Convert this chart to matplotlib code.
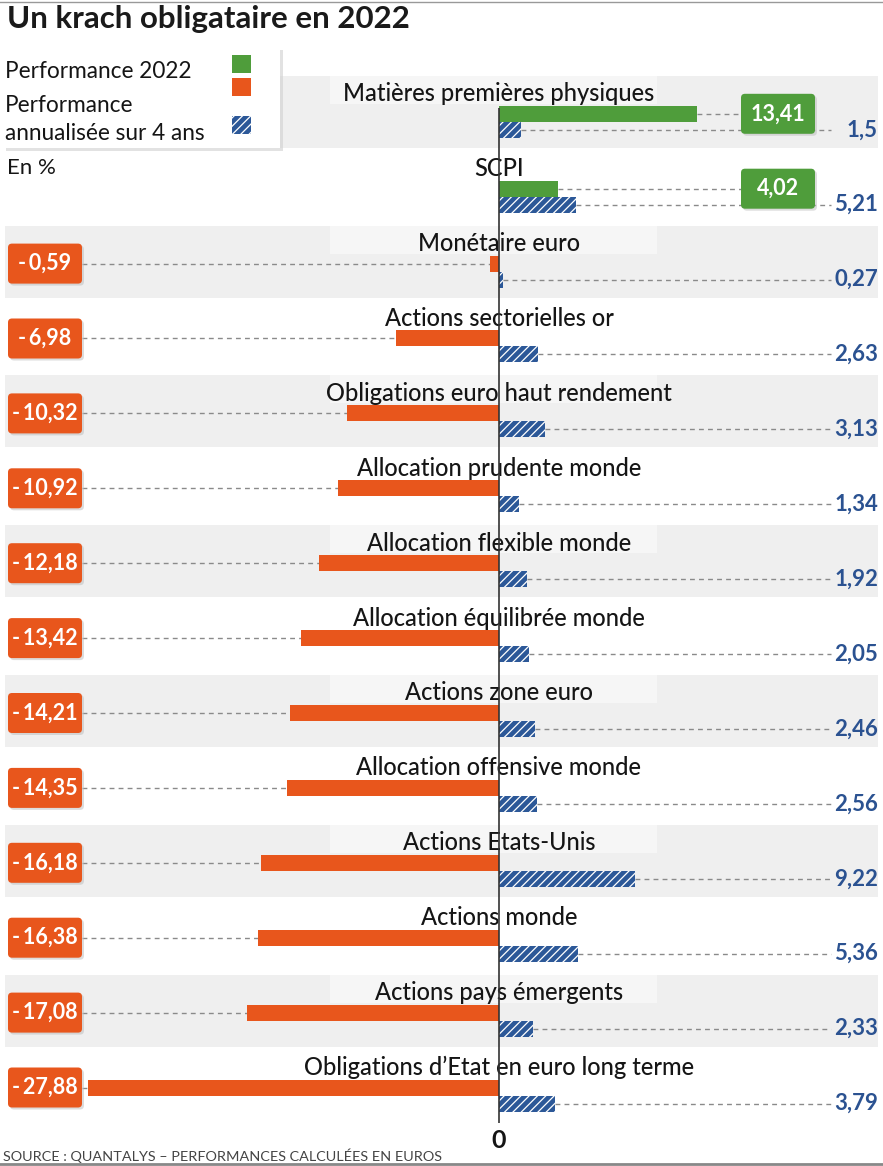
import numpy as np
import matplotlib.pyplot as plt
from matplotlib.patches import Rectangle, FancyBboxPatch
from matplotlib.lines import Line2D

# data (in %)
categories = [
    "Matières premières physiques", "SCPI", "Monétaire euro",
    "Actions sectorielles or", "Obligations euro haut rendement",
    "Allocation prudente monde", "Allocation flexible monde",
    "Allocation équilibrée monde", "Actions zone euro",
    "Allocation offensive monde", "Actions Etats-Unis", "Actions monde",
    "Actions pays émergents", "Obligations d’Etat en euro long terme",
]
perf_2022 = [13.41, 4.02, -0.59, -6.98, -10.32, -10.92, -12.18, -13.42,
             -14.21, -14.35, -16.18, -16.38, -17.08, -27.88]
perf_4ans = [1.5, 5.21, 0.27, 2.63, 3.13, 1.34, 1.92, 2.05, 2.46, 2.56,
             9.22, 5.36, 2.33, 3.79]

GREEN = '#4f9d3b'
ORANGE = '#e8561c'
BLUE = '#2c5898'
BLUE_TXT = '#2b5291'
BAND = '#efefef'
LABEL_BG = '#f6f6f6'
DASH = '#8a8a8a'

plt.rcParams['font.family'] = ['Lato', 'DejaVu Sans']
plt.rcParams['hatch.linewidth'] = 0.9

W, H = 883, 1166
fig = plt.figure(figsize=(W / 100, H / 100), dpi=100)
ax = fig.add_axes([0, 0, 1, 1])

# axes scale: zero at x=499 px, 14.74 px per point; row step 74.9 px
PX_X, X0 = 14.74, 499
PX_R, R0 = 74.9, 121.8
ax.set_xlim(-X0 / PX_X, (W - X0) / PX_X)
ax.set_ylim((H - R0) / PX_R, -R0 / PX_R)
ax.axis('off')


def dx(px):
    return px / PX_X


def dy(px):
    return px / PX_R


def xd(px):
    return (px - X0) / PX_X


def fpx(x, y):
    return x / W, 1 - y / H


def fmt(v):
    return str(abs(v)).replace('.', ',')


rows = np.arange(len(categories))
bh = dy(16)
y_top = rows - bh / 2
y_bot = rows + bh / 2

# alternating bands + label backgrounds
for r in rows[::2]:
    ax.add_patch(Rectangle((xd(5), r - dy(46)), xd(878) - xd(5), dy(72),
                           fc=BAND, ec='none', zorder=0))
    ax.add_patch(Rectangle((xd(330), r - dy(46)), xd(657) - xd(330), dy(28),
                           fc=LABEL_BG, ec='none', zorder=1))

for r, cat in zip(rows, categories):
    ax.text(0, r - dy(28), cat, ha='center', va='center', fontsize=17,
            fontweight='medium', color='#151515', zorder=4)

top_colors = [GREEN if v > 0 else ORANGE for v in perf_2022]
ax.barh(y_top, perf_2022, height=bh, color=top_colors, zorder=3)
ax.barh(y_bot, perf_4ans, height=bh, color=BLUE, edgecolor='white',
        linewidth=0, hatch='////', zorder=3)

asp = PX_X / PX_R
dash = (0, (3.5, 3))
for y, v in zip(y_top, perf_2022):
    if v < 0:
        x_box, txt = xd(8), '-\u2009' + fmt(v)
        ax.plot([xd(82), v], [y, y], ls=dash, color=DASH, lw=1, zorder=2)
        col = ORANGE
    else:
        x_box, txt = xd(741), fmt(v)
        ax.plot([v, xd(741)], [y, y], ls=dash, color=DASH, lw=1, zorder=2)
        col = GREEN
    ax.add_patch(FancyBboxPatch((x_box + dx(2), y - dy(18)), dx(74), dy(40),
                                boxstyle='round,pad=0,rounding_size=%f' % dx(4),
                                mutation_aspect=asp, fc='#bbbbbb', ec='none',
                                alpha=0.5, zorder=4))
    ax.add_patch(FancyBboxPatch((x_box, y - dy(20)), dx(74), dy(40),
                                boxstyle='round,pad=0,rounding_size=%f' % dx(4),
                                mutation_aspect=asp, fc=col, ec='none', zorder=5))
    ax.text(x_box + dx(37), y, txt, ha='center', va='center', color='white',
            fontsize=15.5, fontweight='bold', zorder=6)

for y, v in zip(y_bot, perf_4ans):
    ax.plot([v, xd(831)], [y, y], ls=dash, color=DASH, lw=1, zorder=2)
    ax.text(xd(878), y, fmt(v), ha='right', va='center', color=BLUE_TXT,
            fontsize=16, fontweight='bold', zorder=6)

# zero axis
ax.vlines(0, (108 - R0) / PX_R, (1123 - R0) / PX_R, color='#333333',
          lw=1.2, zorder=7)
ax.text(0, (1140 - R0) / PX_R, '0', ha='center', va='center', fontsize=18,
        fontweight='bold', color='#151515')

# title, rules, notes
fig.add_artist(Line2D([0, 1], [1 - 1.5 / H] * 2, color='#999999', lw=1))
fig.text(*fpx(7, 19), 'Un krach obligataire en 2022', fontsize=22.5,
         fontweight='bold', color='#1a1a1a', va='center', ha='left')
fig.text(*fpx(7, 168), 'En %', fontsize=16, color='#151515', va='center')
fig.text(*fpx(3, 1156), 'SOURCE : QUANTALYS – PERFORMANCES CALCULÉES EN EUROS',
         fontsize=10.4, color='#444444', va='center')
fig.add_artist(Line2D([0, 1], [1 - 1164 / H] * 2, color='#888888', lw=2))

# legend box
x0, y0 = fpx(3, 148)
x1, y1 = fpx(280, 47)
fig.add_artist(Rectangle((x0 + 3 / W, y0 - 3 / H), x1 - x0, y1 - y0,
                         transform=fig.transFigure, fc='#d0d0d0', ec='none',
                         alpha=0.6))
fig.add_artist(Rectangle((x0, y0), x1 - x0, y1 - y0,
                         transform=fig.transFigure, fc='white', ec='none'))
for (ytop, col, hatch) in [(55, GREEN, None), (78, ORANGE, None), (116, BLUE, '////')]:
    lx, ly = fpx(232, ytop + 18)
    fig.add_artist(Rectangle((lx, ly), 19 / W, 18 / H, transform=fig.transFigure,
                             fc=col, ec='white' if hatch else 'none', lw=0,
                             hatch=hatch))
fig.text(*fpx(5, 72), 'Performance 2022', fontsize=16.3, color='#151515',
         va='center')
fig.text(*fpx(5, 106), 'Performance', fontsize=16.3, color='#151515', va='center')
fig.text(*fpx(5, 133), 'annualisée sur 4 ans', fontsize=16.3, color='#151515',
         va='center')

fig.savefig('out.png', dpi=100)
